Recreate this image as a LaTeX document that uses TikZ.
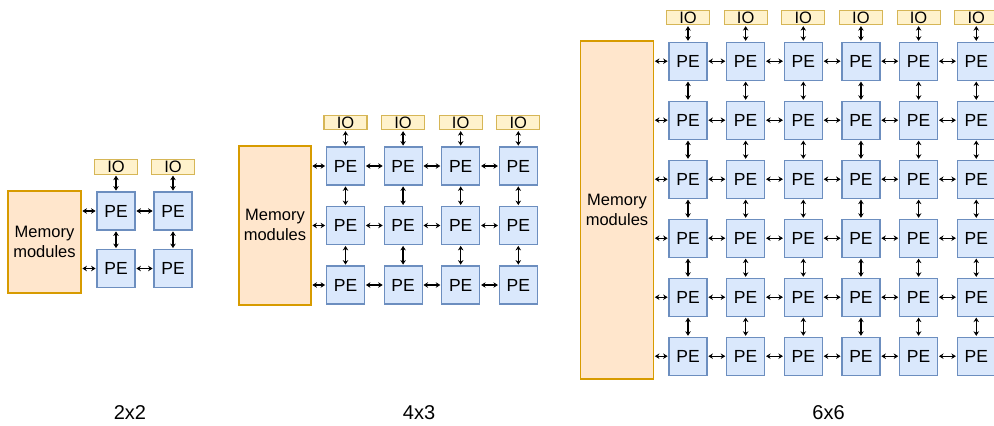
\documentclass[tikz,border=0pt]{standalone}
\usepackage{fontspec}
\setmainfont{Liberation Sans}
\usetikzlibrary{arrows.meta}
\definecolor{peFill}{HTML}{DAE8FC}
\definecolor{peLine}{HTML}{6C8EBF}
\definecolor{ioFill}{HTML}{FFF2CC}
\definecolor{ioLine}{HTML}{D6B656}
\definecolor{memFill}{HTML}{FFE6CC}
\definecolor{memLine}{HTML}{D79B00}
\begin{document}
\begin{tikzpicture}[x=1pt,y=-1pt,
  pe/.style={draw=peLine,fill=peFill,line width=1.2pt,minimum width=38pt,minimum height=38pt,inner sep=0pt,font=\fontsize{17.5}{18}\selectfont},
  io/.style={draw=ioLine,fill=ioFill,line width=1.2pt,minimum width=43pt,minimum height=14.5pt,inner sep=0pt,font=\fontsize{16.5}{16}\selectfont},
  mem/.style={draw=memLine,fill=memFill,line width=1.2pt,inner sep=0pt,align=center,font=\fontsize{16.5}{20}\selectfont},
  lab/.style={inner sep=0pt,font=\fontsize{20}{22}\selectfont},
  link/.style={line width=1.4pt,{Stealth[length=4.5pt,width=5.5pt]}-{Stealth[length=4.5pt,width=5.5pt]},shorten <=0.8pt,shorten >=0.8pt}]
\useasboundingbox (0,0) rectangle (994,426);
% ---------- 2x2 ----------
\node[mem,minimum width=73pt,minimum height=102pt] (m1) at (44.5,242) {Memory\\modules};
\foreach \c in {1,2} {
  \node[io] (ioA-\c) at ({116+(\c-1)*57},167) {IO};
  \foreach \r in {1,2}
    \node[pe] (A-\r-\c) at ({116+(\c-1)*57},{211+(\r-1)*57.5}) {PE};
}
\foreach \c in {1,2} \draw[link] (ioA-\c) -- (A-1-\c);
\foreach \c in {1,2} \draw[link] (A-1-\c) -- (A-2-\c);
\foreach \r in {1,2} {
  \draw[link] (m1.east |- A-\r-1.west) -- (A-\r-1.west);
  \draw[link] (A-\r-1) -- (A-\r-2);
}
\node[lab] (l1) at (130,413) {2x2};
% ---------- 4x3 ----------
\node[mem,minimum width=72pt,minimum height=159pt] (m2) at (275,225.4) {Memory\\modules};
\foreach \c in {1,...,4} {
  \node[io] (ioB-\c) at ({345.5+(\c-1)*57.6},122.5) {IO};
  \foreach \r in {1,2,3}
    \node[pe] (B-\r-\c) at ({345.5+(\c-1)*57.6},{166+(\r-1)*59.5}) {PE};
}
\foreach \c in {1,...,4} {
  \draw[link] (ioB-\c) -- (B-1-\c);
  \foreach \r [count=\n from 2] in {1,2} \draw[link] (B-\r-\c) -- (B-\n-\c);
}
\foreach \r in {1,2,3} {
  \draw[link] (m2.east |- B-\r-1.west) -- (B-\r-1.west);
  \foreach \c [count=\n from 2] in {1,2,3} \draw[link] (B-\r-\c) -- (B-\r-\n);
}
\node[lab] (l2) at (419,413) {4x3};
% ---------- 6x6 ----------
\node[mem,minimum width=73pt,minimum height=338pt] (m3) at (617,210) {Memory\\modules};
\foreach \c in {1,...,6} {
  \node[io] (ioC-\c) at ({688+(\c-1)*57.65},17.5) {IO};
  \foreach \r in {1,...,6}
    \node[pe] (C-\r-\c) at ({688+(\c-1)*57.65},{61.2+(\r-1)*59}) {PE};
}
\foreach \c in {1,...,6} {
  \draw[link] (ioC-\c) -- (C-1-\c);
  \foreach \r [count=\n from 2] in {1,...,5} \draw[link] (C-\r-\c) -- (C-\n-\c);
}
\foreach \r in {1,...,6} {
  \draw[link] (m3.east |- C-\r-1.west) -- (C-\r-1.west);
  \foreach \c [count=\n from 2] in {1,...,5} \draw[link] (C-\r-\c) -- (C-\r-\n);
}
\node[lab] (l3) at (828.5,413) {6x6};
\end{tikzpicture}
\end{document}
